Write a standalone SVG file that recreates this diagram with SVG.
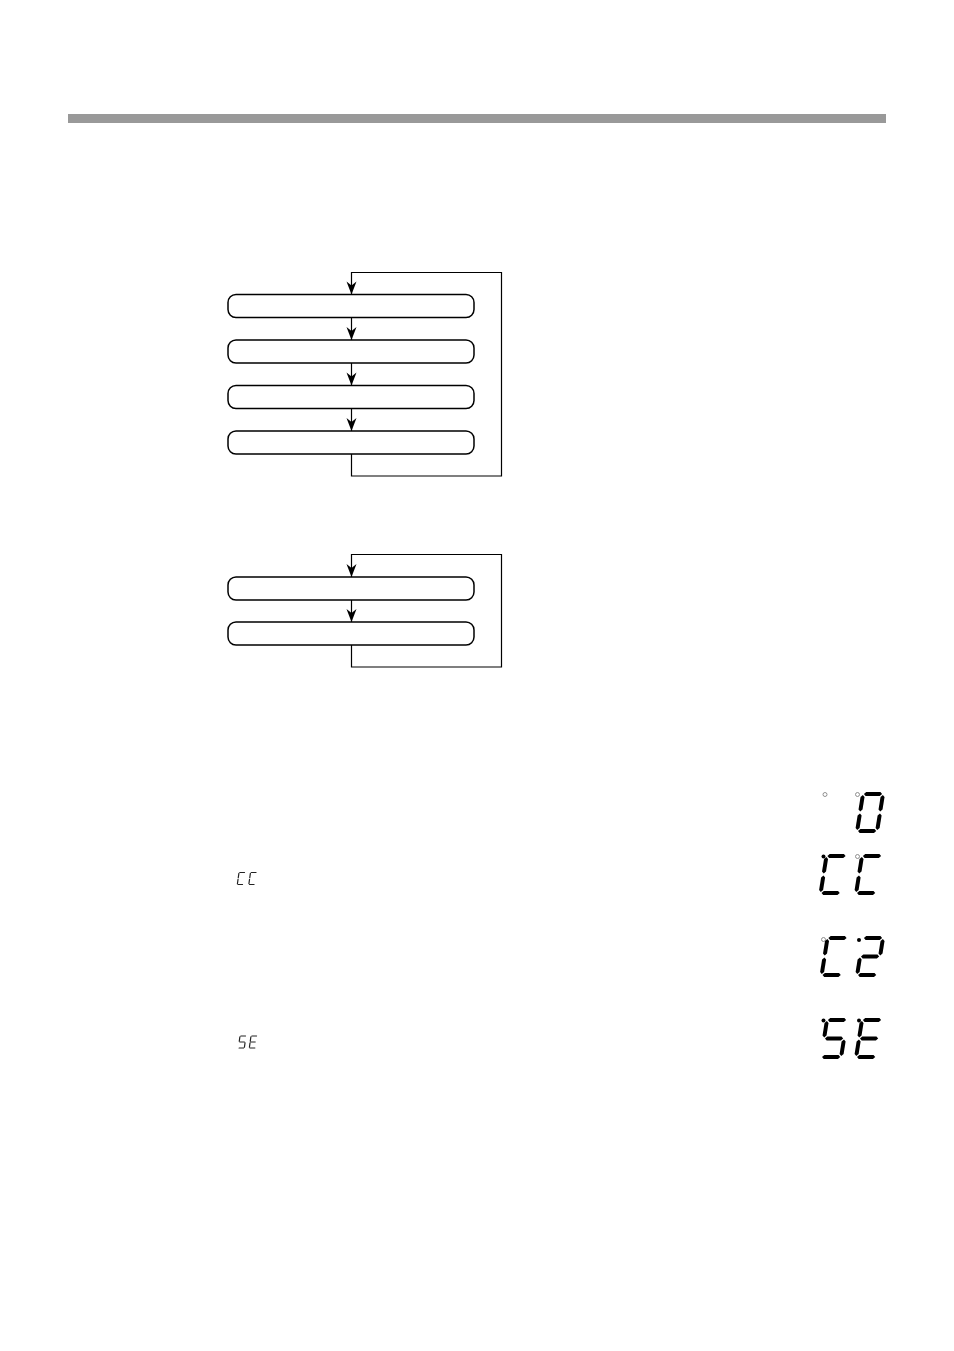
<svg xmlns="http://www.w3.org/2000/svg" width="954" height="1351" viewBox="0 0 954 1351">
<style>
.box{fill:#fff;stroke:#000;stroke-width:1.5}
.conn{fill:none;stroke:#000;stroke-width:1.2}
.seg{fill:#000}
.hol{fill:#fff;stroke:#777;stroke-width:0.8}
.dot{fill:#000}
.sm{fill:none;stroke:#222;stroke-width:1.2;stroke-linecap:round}
</style>
<defs>
<marker id="arr" markerUnits="userSpaceOnUse" markerWidth="16" markerHeight="12" viewBox="-14 -6 16 12" refX="0" refY="0" orient="auto">
<path d="M0,0 L-13,-5 L-9,0 L-13,5 Z" fill="#000"/>
</marker>
<polygon id="h" points="0.9,0 2.9,-2 17.1,-2 19.1,0 17.1,2 2.9,2"/>
<polygon id="v" points="0,0.9 2,2.9 2,15.6 0,17.6 -2,15.6 -2,2.9"/>
</defs>
<rect id="topbar" x="68" y="114" width="818" height="9" fill="#999"/>
<g id="flow1">
<rect id="f1b1" class="box" x="228" y="294.5" width="246" height="23" rx="8"/>
<rect id="f1b2" class="box" x="228" y="340" width="246" height="23" rx="8"/>
<rect id="f1b3" class="box" x="228" y="385.5" width="246" height="23" rx="8"/>
<rect id="f1b4" class="box" x="228" y="431" width="246" height="23" rx="8"/>
</g>
<g id="flow2">
<rect id="f2b1" class="box" x="228" y="577" width="246" height="23" rx="8"/>
<rect id="f2b2" class="box" x="228" y="622" width="246" height="23" rx="8"/>
</g>
<g id="connectors">
<path class="conn" d="M351.5,454 V476 H501.5 V272.5 H351.5 V294.5" marker-end="url(#arr)"/>
<path class="conn" d="M351.5,317.5 V340" marker-end="url(#arr)"/>
<path class="conn" d="M351.5,363 V385.5" marker-end="url(#arr)"/>
<path class="conn" d="M351.5,408.5 V431" marker-end="url(#arr)"/>
<path class="conn" d="M351.5,645 V667 H501.5 V554.5 H351.5 V577" marker-end="url(#arr)"/>
<path class="conn" d="M351.5,600 V622" marker-end="url(#arr)"/>
</g>
<g id="smallCC" class="sm">
<g transform="translate(239,872.5) skewX(-8)">
<path d="M0.8,0 H5.5 M0,0.8 V5.2 M0,6.8 V11.2 M0.8,12 H5.2"/>
</g>
<g transform="translate(250.5,872.5) skewX(-8)">
<path d="M0.8,0 H5.5 M0,0.8 V5.2 M0,6.8 V11.2 M0.8,12 H5.2"/>
</g>
</g>
<g id="smallSE" class="sm">
<g transform="translate(240,1036) skewX(-8)">
<path d="M0.8,0 H5.5 M0,0.8 V5.2 M0.8,6 H5.2 M6,6.8 V11.2 M0.8,12 H5.2"/>
</g>
<g transform="translate(251,1036) skewX(-8)">
<path d="M0.8,0 H5.5 M0,0.8 V5.2 M0.8,6 H5 M0,6.8 V11.2 M0.8,12 H5.5"/>
</g>
</g>
<g id="display1">
<circle class="hol" cx="825" cy="794.5" r="2"/>
<circle class="hol" cx="857.5" cy="794.5" r="2"/>
<g class="seg" transform="translate(863,794) skewX(-9)">
<use href="#h" x="0" y="0"/><use href="#v" x="20" y="0"/><use href="#v" x="20" y="18.5"/>
<use href="#h" x="0" y="37"/><use href="#v" x="0" y="18.5"/><use href="#v" x="0" y="0"/>
</g>
</g>
<g id="display2">
<circle class="dot" cx="823.5" cy="856.5" r="2"/>
<circle class="hol" cx="857.5" cy="856.5" r="2"/>
<g class="seg" transform="translate(826.5,856) skewX(-9)">
<use href="#h" x="0" y="0"/><use href="#v" x="0" y="0"/><use href="#v" x="0" y="18.5"/><use href="#h" x="0" y="37"/>
</g>
<g class="seg" transform="translate(862,856) skewX(-9)">
<use href="#h" x="0" y="0"/><use href="#v" x="0" y="0"/><use href="#v" x="0" y="18.5"/><use href="#h" x="0" y="37"/>
</g>
</g>
<g id="display3">
<circle class="hol" cx="823.5" cy="939.5" r="2"/>
<circle class="dot" cx="859" cy="940" r="2"/>
<g class="seg" transform="translate(827.5,938) skewX(-9)">
<use href="#h" x="0" y="0"/><use href="#v" x="0" y="0"/><use href="#v" x="0" y="18.5"/><use href="#h" x="0" y="37"/>
</g>
<g class="seg" transform="translate(863,938) skewX(-9)">
<use href="#h" x="0" y="0"/><use href="#v" x="20" y="0"/><use href="#h" x="0" y="18.5"/><use href="#v" x="0" y="18.5"/><use href="#h" x="0" y="37"/>
</g>
</g>
<g id="display4">
<circle class="dot" cx="823.5" cy="1020.5" r="2"/>
<circle class="dot" cx="859" cy="1020.5" r="2"/>
<g class="seg" transform="translate(827,1020) skewX(-9)">
<use href="#h" x="0" y="0"/><use href="#v" x="0" y="0"/><use href="#h" x="0" y="18.5"/><use href="#v" x="20" y="18.5"/><use href="#h" x="0" y="37"/>
</g>
<g class="seg" transform="translate(862,1020) skewX(-9)">
<use href="#h" x="0" y="0"/><use href="#v" x="0" y="0"/><use href="#h" x="0" y="18.5"/><use href="#v" x="0" y="18.5"/><use href="#h" x="0" y="37"/>
</g>
</g>
</svg>
